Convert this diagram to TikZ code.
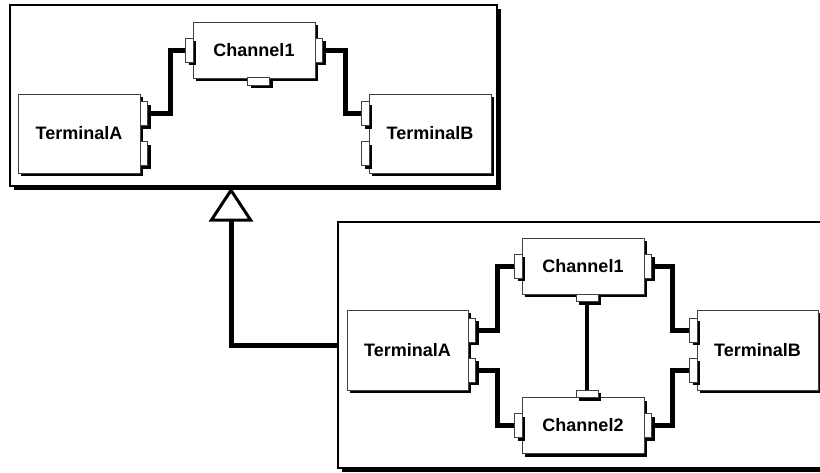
\documentclass[tikz,border=0pt]{standalone}
\usepackage{fontspec}
\setsansfont{Liberation Sans}
\usetikzlibrary{shadows,arrows.meta}

\begin{document}
\begin{tikzpicture}[x=1pt, y=-1pt,
    shade/.style={drop shadow={shadow xshift=3pt, shadow yshift=-3pt, fill=black, opacity=1}},
    frame/.style={draw=black, line width=2.5pt, fill=white, inner sep=0pt,
        drop shadow={shadow xshift=3.5pt, shadow yshift=-3.5pt, fill=black, opacity=1}},
    comp/.style={draw=black!75, line width=0.9pt, fill=white, inner sep=0pt, shade,
        font=\sffamily\bfseries\fontsize{18}{21}\selectfont},
    port/.style={draw=black!75, line width=0.8pt, fill=white, inner sep=0pt, shade},
    vport/.style={port, minimum width=7.5pt, minimum height=24pt},
    hport/.style={port, minimum width=22pt, minimum height=7.5pt},
    wire/.style={line width=5pt}]
    \useasboundingbox (0,0) rectangle (820,472);

    % Upper frame
    \node[frame, minimum width=487pt, minimum height=181pt] (top) at (253.5,95.5) {};
    \node[comp, minimum width=122pt, minimum height=79pt] (ta) at (79,133.5) {TerminalA};
    \node[comp, minimum width=122pt, minimum height=56pt] (ch) at (254,50) {Channel1};
    \node[comp, minimum width=122pt, minimum height=79pt] (tb) at (430,133.5) {TerminalB};
    \node[vport] (tap1) at (144,113.5) {};
    \node[vport] (tap2) at (144,153.5) {};
    \node[vport] (chl) at (189.5,50) {};
    \node[vport] (chr) at (319,50) {};
    \node[hport] (chb) at (258.5,81.5) {};
    \node[vport] (tbp1) at (365.5,113.5) {};
    \node[vport] (tbp2) at (365.5,153.5) {};
    \draw[wire] (tap1.east) -- +(22,0) |- (chl.west);
    \draw[wire] (chr.east) -- +(22,0) |- (tbp1.west);

    % Lower frame
    \node[frame, minimum width=500pt, minimum height=246pt] (bot) at (588,345) {};
    \node[comp, minimum width=121pt, minimum height=80pt] (ta2) at (407.5,350) {TerminalA};
    \node[comp, minimum width=122pt, minimum height=56pt] (ch1) at (583,266) {Channel1};
    \node[comp, minimum width=122pt, minimum height=56pt] (ch2) at (583,425.5) {Channel2};
    \node[comp, minimum width=121pt, minimum height=80pt] (tb2) at (757.5,350) {TerminalB};
    \node[vport] (tap3) at (472,330) {};
    \node[vport] (tap4) at (472,370) {};
    \node[vport] (ch1l) at (518.5,266) {};
    \node[vport] (ch1r) at (648,266) {};
    \node[hport] (ch1b) at (587,298) {};
    \node[vport] (ch2l) at (518.5,425.5) {};
    \node[vport] (ch2r) at (648,425.5) {};
    \node[hport] (ch2t) at (587,394) {};
    \node[vport] (tbp3) at (693.5,330) {};
    \node[vport] (tbp4) at (693.5,370) {};
    \draw[wire] (tap3.east) -- +(21,0) |- (ch1l.west);
    \draw[wire] (tap4.east) -- +(21,0) |- (ch2l.west);
    \draw[wire] (ch1r.east) -- +(20,0) |- (tbp3.west);
    \draw[wire] (ch2r.east) -- +(20,0) |- (tbp4.west);
    \draw[line width=4.5pt] (ch1b.south) -- (ch2t.north);

    % Generalization
    \coordinate (apex) at (231,187.5);
    \draw[wire, -{Triangle[open, length=34pt, width=44pt, line width=3pt]}] (bot.west) -| (apex);
\end{tikzpicture}
\end{document}
